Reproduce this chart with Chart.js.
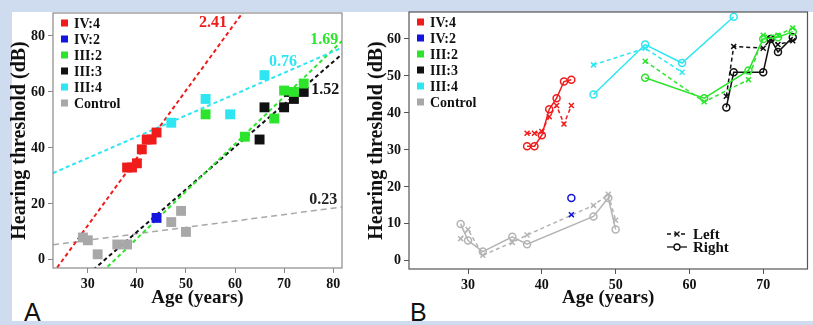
<!DOCTYPE html>
<html>
<head>
<meta charset="utf-8">
<script src="https://cdn.jsdelivr.net/npm/chart.js@4.4.1/dist/chart.umd.min.js"></script>
<style>
    body { margin: 0; width: 813px; height: 325px; overflow: hidden; position: relative; background: #cfdbef; }
    #panel { position: absolute; left: 12px; top: 12px; width: 801px; height: 309px; background: #fff; overflow: hidden; }
    .tag { position: absolute; font-family: "Liberation Sans", Arial, sans-serif; font-size: 25px; line-height: 25px; color: #111; }
    #wrapA { position: absolute; left: 0; top: 0; width: 400px; height: 325px; }
    #wrapB { position: absolute; left: 355px; top: 0; width: 458px; height: 325px; }
</style>
</head>
<body>
<div id="panel">
    <div class="tag" style="left:12px; top:288px;">A</div>
    <div class="tag" style="left:398px; top:288px;">B</div>
</div>
<div id="wrapA"><canvas id="chartA" width="400" height="325"></canvas></div>
<div id="wrapB"><canvas id="chartB" width="458" height="325"></canvas></div>

<script>
// groups (same order as the legends)
const groups = ['IV:4', 'IV:2', 'III:2', 'III:3', 'III:4', 'Control'];
const groupColors = ['#f01c1c', '#1414e0', '#2de42d', '#111111', '#2ee6f2', '#a8a8a8'];

// ages per group
const ageIV4 = [38, 39, 40, 41, 42, 43, 44];
const ageIV2 = [44];
const ageIII2 = [54, 62, 68, 70, 72, 74];
const ageIII3 = [65, 66, 70, 71, 72, 74];
const ageIII4 = [47, 54, 59, 66];
const ageCtrl = [29, 30, 32, 36, 38, 47, 49, 50];

// panel A - mean threshold (dB)
const meanIV4 = [33, 33, 34.5, 39.5, 43, 43, 45.5];
const meanIV2 = [15];
const meanIII2 = [52, 44, 50.5, 60.5, 60, 63];
const meanIII3 = [43, 54.5, 54.5, 60, 57.5, 60];
const meanIII4 = [49, 57.5, 52, 66];
const meanCtrl = [8, 7, 2, 5.5, 5.5, 13.5, 17.5, 10];

// panel A - fitted lines (IV:4, III:4, III:2, III:3, Control), end points
const fitGroups = ['IV:4', 'III:4', 'III:2', 'III:3', 'Control'];
const fitX0 = [22.9, 22.9, 33, 30, 22.9];
const fitY0 = [-4.8, 31, -4.2, -5.2, 5.4];
const fitX1 = [62, 81.8, 81.8, 81.8, 81.8];
const fitY1 = [89.4, 75.8, 78.2, 73.5, 18.9];
const slopeText = ['2.41', '0.76', '1.69', '1.52', '0.23'];
const slopeX = [55.5, 69.8, 78.2, 78.4, 78];
const slopeY = [84.6, 70.7, 78.6, 60.7, 21.4];

// panel B - left / right ear
const leftIV4 = [34.5, 34.5, 35, 39, 42, 37, 42];
const rightIV4 = [31, 31, 34, 41, 44, 48.5, 49];
const leftIV2 = [12.5];
const rightIV2 = [17];
const leftIII2 = [54, 43, 49, 61, 61, 63];
const rightIII2 = [49.5, 44, 51.5, 60, 60.5, 62];
const leftIII3 = [44.5, 58, 57.5, 60, 58.5, 59.5];
const rightIII3 = [41.5, 51, 51, 60, 56.5, 60.5];
const leftIII4 = [53, 57.5, 51, null];
const rightIII4 = [45, 58.5, 53.5, 66];
const leftCtrl = [6, 8.5, 1.5, 5, 7, 15, 18, 11];
const rightCtrl = [10, 5.5, 2.5, 6.5, 4.5, 12, 17, 8.5];

// tick labels
const xTicksA = [30, 40, 50, 60, 70, 80];
const yTicksA = [0, 20, 40, 60, 80];
const xTicksB = [30, 40, 50, 60, 70];
const yTicksB = [0, 10, 20, 30, 40, 50, 60];

const serif = '"Liberation Serif", "Times New Roman", serif';
const groupAges = [ageIV4, ageIV2, ageIII2, ageIII3, ageIII4, ageCtrl];

function pts(xs, ys) {
    return xs.map((x, i) => ({ x: x, y: ys[i] }));
}

function colorOf(name) {
    return groupColors[groups.indexOf(name)];
}

// box round the plot area + legend in the top left corner
function frameAndLegend(boxColor, extra) {
    return {
        id: 'frameAndLegend',
        afterDraw(chart) {
            const ctx = chart.ctx;
            const a = chart.chartArea;
            ctx.save();
            ctx.strokeStyle = boxColor;
            ctx.lineWidth = 1.2;
            ctx.strokeRect(a.left, a.top, a.right - a.left, a.bottom - a.top);

            ctx.font = 'bold 14px ' + serif;
            ctx.textBaseline = 'middle';
            groups.forEach((g, i) => {
                const y = a.top + 10 + i * 16;
                ctx.fillStyle = groupColors[i];
                ctx.fillRect(a.left + 8, y - 3.5, 7, 7);
                ctx.fillStyle = '#111';
                ctx.fillText(g, a.left + 21, y + 1);
            });
            if (extra) extra(chart, ctx, a);
            ctx.restore();
        }
    };
}

function axisFont(size) {
    return { family: serif, size: size, weight: 'bold' };
}

function makeScale(min, max, tickValues, title, fitSize, horizontal, lineColor) {
    return {
        type: 'linear',
        min: min,
        max: max,
        afterBuildTicks: axis => { axis.ticks = tickValues.map(v => ({ value: v })); },
        afterFit: s => { if (horizontal) s.height = fitSize; else s.width = fitSize; },
        grid: { drawOnChartArea: false, drawTicks: true, tickLength: 5, color: lineColor },
        border: { display: false },
        ticks: { color: '#111', font: axisFont(14), padding: 3, maxRotation: 0 },
        title: { display: true, text: title, color: '#111', font: axisFont(horizontal ? 19 : 20), padding: 0 }
    };
}

// ---------- panel A ----------
const dsA = [];
const meansA = [meanIV4, meanIV2, meanIII2, meanIII3, meanIII4, meanCtrl];
groups.forEach((g, i) => {
    dsA.push({
        type: 'scatter',
        label: g,
        data: pts(groupAges[i], meansA[i]),
        pointStyle: 'rect',
        pointRadius: 7,
        backgroundColor: groupColors[i],
        borderColor: groupColors[i],
        borderWidth: 0,
        order: 0
    });
});
fitGroups.forEach((g, i) => {
    const isCtrl = g === 'Control';
    dsA.push({
        type: 'line',
        label: 'fit ' + g,
        data: [{ x: fitX0[i], y: fitY0[i] }, { x: fitX1[i], y: fitY1[i] }],
        borderColor: colorOf(g),
        borderWidth: isCtrl ? 1.5 : 2,
        borderDash: isCtrl ? [6, 4] : [4, 3],
        pointRadius: 0,
        fill: false,
        order: 1
    });
});

const slopeLabels = (chart, ctx) => {
    const xs = chart.scales.x, ys = chart.scales.y;
    ctx.font = 'bold 16px ' + serif;
    ctx.textAlign = 'center';
    ctx.textBaseline = 'middle';
    slopeText.forEach((t, i) => {
        const c = fitGroups[i] === 'Control' ? '#222' : colorOf(fitGroups[i]);
        ctx.fillStyle = c;
        ctx.fillText(t, xs.getPixelForValue(slopeX[i]), ys.getPixelForValue(slopeY[i]));
    });
};

new Chart(document.getElementById('chartA'), {
    data: { datasets: dsA },
    options: {
        responsive: false,
        animation: false,
        devicePixelRatio: 1,
        layout: { padding: { left: 8, top: 13, right: 58, bottom: 16 } },
        plugins: { legend: { display: false }, tooltip: { enabled: false } },
        scales: {
            x: makeScale(22.9, 81.8, xTicksA, 'Age (years)', 41, true, '#888'),
            y: makeScale(-2.9, 88.2, yTicksA, 'Hearing threshold (dB)', 45, false, '#888')
        }
    },
    plugins: [frameAndLegend('#8a8a8a', slopeLabels)]
});

// ---------- panel B ----------
const dsB = [];
const leftB = [leftIV4, leftIV2, leftIII2, leftIII3, leftIII4, leftCtrl];
const rightB = [rightIV4, rightIV2, rightIII2, rightIII3, rightIII4, rightCtrl];
groups.forEach((g, i) => {
    const c = g === 'Control' ? '#b4b4b4' : groupColors[i];
    dsB.push({
        type: 'line',
        label: g + ' left',
        data: pts(groupAges[i], leftB[i]),
        borderColor: c,
        borderWidth: 1.5,
        borderDash: [4, 3],
        pointStyle: 'crossRot',
        pointRadius: 3.5,
        pointBorderWidth: 1.5,
        pointBorderColor: c,
        tension: 0,
        fill: false
    });
    dsB.push({
        type: 'line',
        label: g + ' right',
        data: pts(groupAges[i], rightB[i]),
        borderColor: c,
        borderWidth: 1.5,
        pointStyle: 'circle',
        pointRadius: 3.5,
        pointBorderWidth: 1.5,
        pointBorderColor: c,
        pointBackgroundColor: 'rgba(255,255,255,0)',
        tension: 0,
        fill: false
    });
});

const earKey = (chart, ctx, a) => {
    const x0 = a.left + 258, x1 = a.left + 278, xm = a.left + 268;
    const rows = [['Left', a.bottom - 35, [4, 3]], ['Right', a.bottom - 22, []]];
    ctx.strokeStyle = '#111';
    ctx.lineWidth = 1.3;
    rows.forEach((r, i) => {
        ctx.setLineDash(r[2]);
        ctx.beginPath();
        ctx.moveTo(x0, r[1]);
        ctx.lineTo(x1, r[1]);
        ctx.stroke();
        ctx.setLineDash([]);
        ctx.beginPath();
        if (i === 0) {
            ctx.moveTo(xm - 2.5, r[1] - 2.5); ctx.lineTo(xm + 2.5, r[1] + 2.5);
            ctx.moveTo(xm + 2.5, r[1] - 2.5); ctx.lineTo(xm - 2.5, r[1] + 2.5);
        } else {
            ctx.fillStyle = '#fff';
            ctx.arc(xm, r[1], 3, 0, Math.PI * 2);
            ctx.fill();
        }
        ctx.stroke();
        ctx.fillStyle = '#111';
        ctx.font = 'bold 15px ' + serif;
        ctx.textAlign = 'left';
        ctx.textBaseline = 'middle';
        ctx.fillText(r[0], x1 + 6, r[1] + 1);
    });
};

new Chart(document.getElementById('chartB'), {
    data: { datasets: dsB },
    options: {
        responsive: false,
        animation: false,
        devicePixelRatio: 1,
        layout: { padding: { left: 10, top: 12, right: 1, bottom: 16 } },
        plugins: { legend: { display: false }, tooltip: { enabled: false } },
        scales: {
            x: makeScale(22, 76, xTicksB, 'Age (years)', 40, true, '#555'),
            y: makeScale(-2.2, 67.3, yTicksB, 'Hearing threshold (dB)', 44, false, '#555')
        }
    },
    plugins: [frameAndLegend('#555', earKey)]
});
</script>
</body>
</html>
